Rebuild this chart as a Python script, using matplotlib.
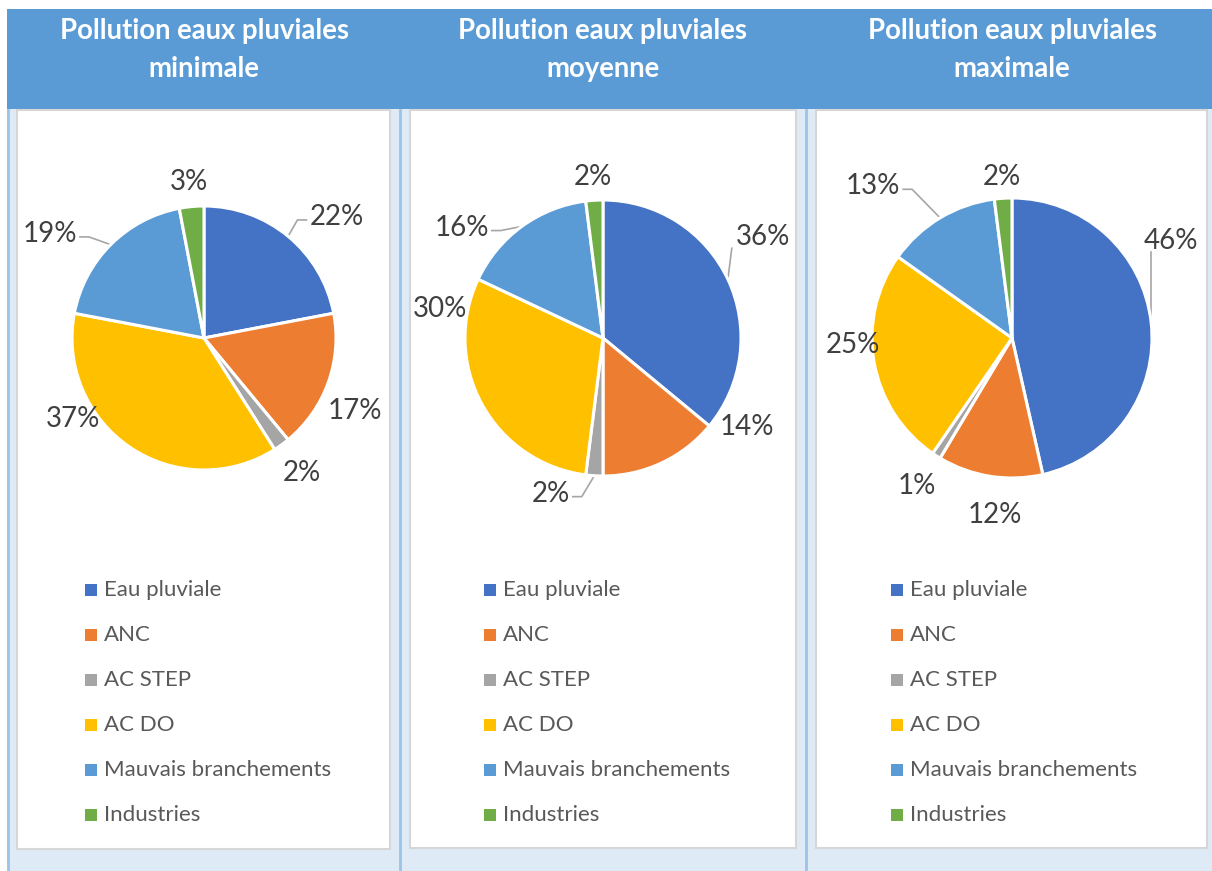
import numpy as np
import matplotlib
matplotlib.use('Agg')
import matplotlib.pyplot as plt
from matplotlib.patches import Rectangle

plt.rcParams['font.family'] = ['Lato', 'DejaVu Sans']

categories = ['Eau pluviale', 'ANC', 'AC STEP', 'AC DO', 'Mauvais branchements', 'Industries']
pct_min = [22, 17, 2, 37, 19, 3]
pct_moy = [36, 14, 2, 30, 16, 2]
pct_max = [46, 12, 1, 25, 13, 2]
titles = ['Pollution eaux pluviales\nminimale',
          'Pollution eaux pluviales\nmoyenne',
          'Pollution eaux pluviales\nmaximale']

colors = ['#4472C4', '#ED7D31', '#A5A5A5', '#FFC000', '#5B9BD5', '#70AD47']

W, H = 1212, 871

# layout (pixels, top-left origin) : pie centre x, centre y, radius
pie_geom = [(204, 338, 132), (603, 338, 138), (1012, 338, 140)]
# label placement: angle shift from wedge middle, distance factor, leader line
label_layout = [
    [(-8, 1.36, True), (-6, 1.27, False), (0, 1.26, False), (-24, 1.17, False), (11, 1.41, True), (0, 1.19, False)],
    [(7, 1.37, True), (33, 1.23, False), (-15, 1.19, True), (-39, 1.20, False), (16, 1.30, True), (0, 1.17, False)],
    [(25, 1.33, True), (3.6, 1.27, False), (0, 1.26, False), (-7.5, 1.14, False), (11.6, 1.47, True), (0, 1.15, False)],
]
panels = [(17, 390, 849), (410, 796, 848), (816, 1207, 848)]
legend_x = [91, 490, 897]
legend_y0 = 590
legend_step = 45


def Y(y):
    return H - y


fig = plt.figure(figsize=(W / 100, H / 100), dpi=100)
ax = fig.add_axes([0, 0, 1, 1])

# background / table frame
ax.add_patch(Rectangle((7, Y(871)), W - 7, 871 - 109, color='#DEEBF7', lw=0, zorder=0))
ax.add_patch(Rectangle((7, Y(109)), W - 7, 100, color='#5B9BD5', lw=0, zorder=1))
for xs in [8, 400, 806]:
    ax.plot([xs, xs], [Y(110), Y(871)], color='#9DC3E6', lw=2, zorder=1)
for x0, x1, yb in panels:
    ax.add_patch(Rectangle((x0, Y(yb)), x1 - x0, yb - 110, facecolor='white',
                           edgecolor='#D6D6D6', lw=1.5, zorder=1))

series = [pct_min, pct_moy, pct_max]
label_texts = []
for i, vals in enumerate(series):
    cx, cy, r = pie_geom[i]
    wedges, _ = ax.pie(vals, colors=colors, startangle=90, counterclock=False,
                       center=(cx, Y(cy)), radius=r,
                       wedgeprops=dict(edgecolor='white', linewidth=2.2))
    for w in wedges:
        w.set_zorder(3)
    ax.text(cx, Y(50), titles[i], ha='center', va='center', color='white',
            fontsize=19.8, fontweight='bold', linespacing=1.6, zorder=4)
    for j, (w, v) in enumerate(zip(wedges, vals)):
        mid = (w.theta1 + w.theta2) / 2
        dang, fac, lead = label_layout[i][j]
        a = np.deg2rad(mid + dang)
        t = ax.text(cx + fac * r * np.cos(a), Y(cy) + fac * r * np.sin(a), f'{v}%',
                    ha='center', va='center', fontsize=20, color='#404040', zorder=4)
        if lead:
            m = np.deg2rad(mid)
            label_texts.append((t, cx + r * np.cos(m), Y(cy) + r * np.sin(m)))
    # legend
    for j, cat in enumerate(categories):
        ly = Y(legend_y0 + j * legend_step)
        ax.scatter([legend_x[i]], [ly], marker='s', s=64, color=colors[j], zorder=4, linewidths=0)
        ax.text(legend_x[i] + 13, ly, cat, ha='left', va='center', fontsize=16,
                color='#595959', zorder=4)

ax.set_xlim(0, W)
ax.set_ylim(0, H)
ax.set_aspect('auto')
ax.axis('off')

# leader lines
fig.canvas.draw()
inv = ax.transData.inverted()
for t, px, py in label_texts:
    bb = t.get_window_extent()
    (x0, y0), (x1, y1) = inv.transform([[bb.x0, bb.y0], [bb.x1, bb.y1]])
    if py < y0 and x0 - 15 <= px <= x1:
        # rim point below the label: near-vertical line to its lower-left part
        ax.plot([px, max(px, x0 - 4)], [py, y0 + 2], color='#A6A6A6', lw=1.2, zorder=2)
        continue
    ym = (y0 + y1) / 2 - 3
    if px < x0:
        ax_, sgn = x0 - 3, -1
    else:
        ax_, sgn = x1 + 3, 1
    ex = ax_ + sgn * 9
    ax.plot([px, ex, ax_], [py, ym, ym], color='#A6A6A6', lw=1.2, zorder=2)

fig.savefig('out.png', dpi=100)
